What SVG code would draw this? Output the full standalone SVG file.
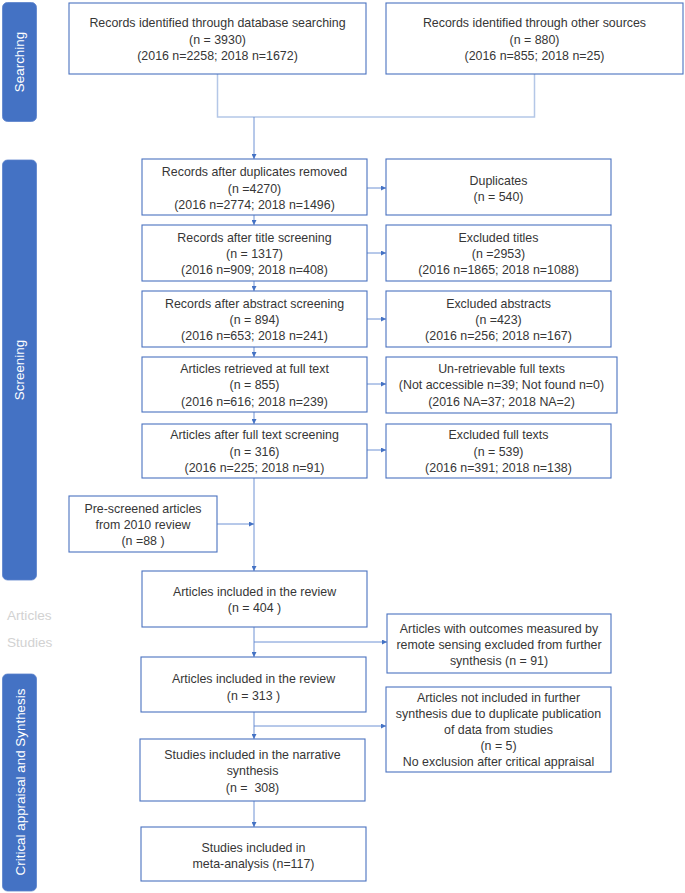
<svg xmlns="http://www.w3.org/2000/svg" width="685" height="893" viewBox="0 0 685 893">
<style>
.bx{fill:#fff;stroke:#4a72c0;stroke-width:1.1}
.t{font-family:"Liberation Sans",Arial,sans-serif;font-size:12.4px;fill:#363636;text-anchor:middle}
.bar{fill:#4472C4;stroke:#5a82cc;stroke-width:0.8}
.bt{font-family:"Liberation Sans",Arial,sans-serif;font-size:13.4px;fill:#fff;text-anchor:middle}
.side{font-family:"Liberation Sans",Arial,sans-serif;font-size:13.6px;fill:#d2d2d2}
.c{fill:none;stroke:#5f86cf;stroke-width:0.9}
.j{fill:none;stroke:#b4c7e7;stroke-width:1.5}
</style>
<defs>
<marker id="ah" viewBox="0 0 6 6" refX="6" refY="3" markerWidth="5" markerHeight="5" orient="auto" markerUnits="userSpaceOnUse">
<path d="M0,0 L6,3 L0,6 z" fill="#4472C4"/>
</marker>
</defs>

<g id="bar-searching">
<rect class="bar" x="2.5" y="2.5" width="34" height="119" rx="5"/>
<text class="bt" transform="translate(24,62) rotate(-90)">Searching</text>
</g>
<g id="bar-screening">
<rect class="bar" x="2.5" y="160" width="34" height="420" rx="5"/>
<text class="bt" transform="translate(24,370) rotate(-90)">Screening</text>
</g>
<g id="label-articles"><text class="side" x="7" y="620">Articles</text></g>
<g id="label-studies"><text class="side" x="7" y="647">Studies</text></g>
<g id="bar-critical">
<rect class="bar" x="2.5" y="674" width="34" height="217" rx="5"/>
<text class="bt" transform="translate(25,782) rotate(-90)">Critical appraisal and Synthesis</text>
</g>

<g id="connectors">
<path class="j" d="M217.5,74 V117 H534.5 V74"/>
<path class="c" d="M254,117 V159" marker-end="url(#ah)"/>
<path class="c" d="M254,215 V225" marker-end="url(#ah)"/>
<path class="c" d="M254,281 V291" marker-end="url(#ah)"/>
<path class="c" d="M254,347 V357" marker-end="url(#ah)"/>
<path class="c" d="M254,412 V424" marker-end="url(#ah)"/>
<path class="c" d="M254,478 V571" marker-end="url(#ah)"/>
<path class="c" d="M217,524 H254" marker-end="url(#ah)"/>
<path class="c" d="M254,627 V657" marker-end="url(#ah)"/>
<path class="c" d="M254,642 H387" marker-end="url(#ah)"/>
<path class="c" d="M254,712 V739" marker-end="url(#ah)"/>
<path class="c" d="M254,726 H386" marker-end="url(#ah)"/>
<path class="c" d="M254,801 V827" marker-end="url(#ah)"/>
<path class="c" d="M367,188 H386" marker-end="url(#ah)"/>
<path class="c" d="M367,253 H386" marker-end="url(#ah)"/>
<path class="c" d="M367,319 H386" marker-end="url(#ah)"/>
<path class="c" d="M367,384 H386" marker-end="url(#ah)"/>
<path class="c" d="M367,450 H386" marker-end="url(#ah)"/>
</g>

<g id="db-search">
<rect class="bx" x="69" y="3" width="297" height="71"/>
<text class="t" x="217.5" y="27">Records identified through database searching</text>
<text class="t" x="217.5" y="43.5">(n = 3930)</text>
<text class="t" x="217.5" y="60">(2016 n=2258; 2018 n=1672)</text>
</g>
<g id="other-sources">
<rect class="bx" x="386" y="3" width="297" height="71"/>
<text class="t" x="534.5" y="27">Records identified through other sources</text>
<text class="t" x="534.5" y="43.5">(n = 880)</text>
<text class="t" x="534.5" y="60">(2016 n=855; 2018 n=25)</text>
</g>

<g id="after-duplicates">
<rect class="bx" x="142" y="159" width="225" height="56"/>
<text class="t" x="254.5" y="176">Records after duplicates removed</text>
<text class="t" x="254.5" y="192.5">(n =4270)</text>
<text class="t" x="254.5" y="209">(2016 n=2774; 2018 n=1496)</text>
</g>
<g id="after-title">
<rect class="bx" x="142" y="225" width="225" height="56"/>
<text class="t" x="254.5" y="242">Records after title screening</text>
<text class="t" x="254.5" y="258">(n = 1317)</text>
<text class="t" x="254.5" y="274">(2016 n=909; 2018 n=408)</text>
</g>
<g id="after-abstract">
<rect class="bx" x="142" y="291" width="225" height="56"/>
<text class="t" x="254.5" y="307.5">Records after abstract screening</text>
<text class="t" x="254.5" y="323.5">(n = 894)</text>
<text class="t" x="254.5" y="339.5">(2016 n=653; 2018 n=241)</text>
</g>
<g id="retrieved">
<rect class="bx" x="142" y="357" width="225" height="55"/>
<text class="t" x="254.5" y="373">Articles retrieved at full text</text>
<text class="t" x="254.5" y="389">(n = 855)</text>
<text class="t" x="254.5" y="405.5">(2016 n=616; 2018 n=239)</text>
</g>
<g id="after-fulltext">
<rect class="bx" x="142" y="424" width="225" height="54"/>
<text class="t" x="254.5" y="439">Articles after full text screening</text>
<text class="t" x="254.5" y="455.5">(n = 316)</text>
<text class="t" x="254.5" y="471.5">(2016 n=225; 2018 n=91)</text>
</g>
<g id="pre-screened">
<rect class="bx" x="69" y="496" width="148" height="56"/>
<text class="t" x="143" y="512.5">Pre-screened articles</text>
<text class="t" x="143" y="528.5">from 2010 review</text>
<text class="t" x="143" y="545">(n =88 )</text>
</g>
<g id="included-404">
<rect class="bx" x="142" y="571" width="225" height="56"/>
<text class="t" x="254.5" y="595.5">Articles included in the review</text>
<text class="t" x="254.5" y="612">(n = 404 )</text>
</g>
<g id="included-313">
<rect class="bx" x="141" y="657" width="225" height="55"/>
<text class="t" x="253.5" y="683">Articles included in the review</text>
<text class="t" x="253.5" y="700">(n = 313 )</text>
</g>
<g id="narrative">
<rect class="bx" x="140" y="739" width="225" height="62"/>
<text class="t" x="252.5" y="758.5">Studies included in the narrative</text>
<text class="t" x="252.5" y="775">synthesis</text>
<text class="t" x="252.5" y="791.5" xml:space="preserve">(n =  308)</text>
</g>
<g id="meta-analysis">
<rect class="bx" x="141" y="827" width="225" height="54"/>
<text class="t" x="253.5" y="851.5">Studies included in</text>
<text class="t" x="253.5" y="867.5">meta-analysis (n=117)</text>
</g>

<g id="duplicates">
<rect class="bx" x="386" y="159" width="225" height="56"/>
<text class="t" x="498.5" y="184.5">Duplicates</text>
<text class="t" x="498.5" y="200.5">(n = 540)</text>
</g>
<g id="excluded-titles">
<rect class="bx" x="386" y="225" width="225" height="56"/>
<text class="t" x="498.5" y="242">Excluded titles</text>
<text class="t" x="498.5" y="258">(n =2953)</text>
<text class="t" x="498.5" y="274">(2016 n=1865; 2018 n=1088)</text>
</g>
<g id="excluded-abstracts">
<rect class="bx" x="386" y="291" width="225" height="56"/>
<text class="t" x="498.5" y="307.5">Excluded abstracts</text>
<text class="t" x="498.5" y="323.5">(n =423)</text>
<text class="t" x="498.5" y="339.5">(2016 n=256; 2018 n=167)</text>
</g>
<g id="unretrievable">
<rect class="bx" x="386" y="357" width="231" height="56"/>
<text class="t" x="501.5" y="373">Un-retrievable full texts</text>
<text class="t" x="501.5" y="389">(Not accessible n=39; Not found n=0)</text>
<text class="t" x="501.5" y="405.5">(2016 NA=37; 2018 NA=2)</text>
</g>
<g id="excluded-fulltext">
<rect class="bx" x="386" y="424" width="225" height="54"/>
<text class="t" x="498.5" y="439">Excluded full texts</text>
<text class="t" x="498.5" y="455.5">(n = 539)</text>
<text class="t" x="498.5" y="471.5">(2016 n=391; 2018 n=138)</text>
</g>
<g id="remote-sensing">
<rect class="bx" x="387" y="614" width="224" height="59"/>
<text class="t" x="499" y="632.5">Articles with outcomes measured by</text>
<text class="t" x="499" y="648.5">remote sensing excluded from further</text>
<text class="t" x="499" y="664.5">synthesis (n = 91)</text>
</g>
<g id="not-included">
<rect class="bx" x="386" y="687" width="225" height="85"/>
<text class="t" x="498.5" y="701.5">Articles not included in further</text>
<text class="t" x="498.5" y="717.5">synthesis due to duplicate publication</text>
<text class="t" x="498.5" y="733.5">of data from studies</text>
<text class="t" x="498.5" y="750">(n = 5)</text>
<text class="t" x="498.5" y="766">No exclusion after critical appraisal</text>
</g>
</svg>
